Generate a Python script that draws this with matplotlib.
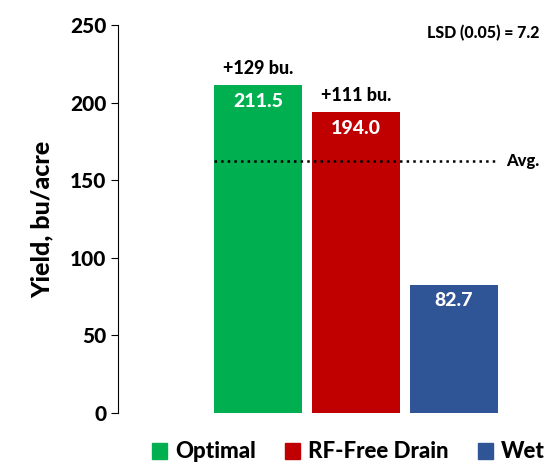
import matplotlib
matplotlib.use("Agg")
import matplotlib.pyplot as plt
from matplotlib.patches import Patch

plt.rcParams['font.family'] = ['Lato', 'DejaVu Sans']
plt.rcParams['font.weight'] = 'black'

categories = ["Optimal", "RF-Free Drain", "Wet"]
yields = [211.5, 194.0, 82.7]
gains = ["+129 bu.", "+111 bu.", None]
colors = ["#00B050", "#C00000", "#2F5597"]
avg = 162.4

fig = plt.figure(figsize=(5.48, 4.62), dpi=100)
ax = fig.add_axes([118/548, 1-413/462, 1-118/548, (413-25)/462])
pos = range(len(categories))
ax.bar(pos, yields, width=0.89, color=colors)
for p, v, g in zip(pos, yields, gains):
    ax.text(p, v - 5, f"{v:.1f}", ha='center', va='top', color='white', fontsize=14, fontweight='black')
    if g:
        ax.text(p, v + 5, g, ha='center', va='bottom', color='black', fontsize=13, fontweight='black')
ax.plot([-0.45, 2.45], [avg, avg], ls=':', color='black', lw=1.8)
ax.text(2.53, avg, "Avg.", va='center', fontsize=12, fontweight='black')
ax.text(2.87, 245, "LSD (0.05) = 7.2", ha='right', va='center', fontsize=11.5, fontweight='black')

ax.set_xlim(-1.43, 2.96)
ax.set_ylim(0, 250)
ax.set_yticks(range(0, 251, 50))
ax.tick_params(axis='y', labelsize=15, length=5)
for lb in ax.get_yticklabels():
    lb.set_fontweight('black')
ax.set_xticks([])
for s in ['top', 'right', 'bottom']:
    ax.spines[s].set_visible(False)
ax.set_ylabel("Yield, bu/acre", fontsize=18, fontweight='black', labelpad=12)

handles = [Patch(color=c) for c in colors]
fig.legend(handles, categories, loc='center left', bbox_to_anchor=(143/548, 1-452/462),
           ncol=3, frameon=False, prop={'size': 16, 'weight': 'black'},
           handlelength=0.7, handleheight=0.7,
           handletextpad=0.35, columnspacing=1.3, borderaxespad=0)
fig.savefig("out.png", dpi=100)
